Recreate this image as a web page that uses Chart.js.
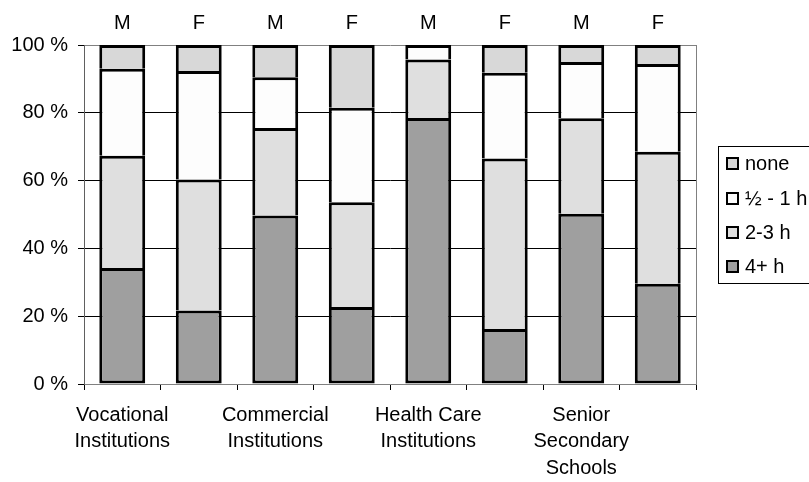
<!DOCTYPE html>
<html>
<head>
<meta charset="utf-8">
<script src="https://cdn.jsdelivr.net/npm/chart.js@4"></script>
<style>
  html, body { margin: 0; padding: 0; background: #ffffff; }
  #wrap { width: 809px; height: 482px; position: relative; }
</style>
</head>
<body>
<div id="wrap"><canvas id="c" width="809" height="482"></canvas></div>
<script>
// Category labels (one per bar, the institution name sits under the M bar)
const categories = [
  ["Vocational", "Institutions"], "",
  ["Commercial", "Institutions"], "",
  ["Health Care", "Institutions"], "",
  ["Senior", "Secondary", "Schools"], ""
];
const genders = ["M", "F", "M", "F", "M", "F", "M", "F"];

// Share of students (%) per daily time band
const hours4plus = [34.2, 21.7, 49.7, 22.7, 78.5, 16.2, 50.2, 29.6];
const hours2to3  = [33.1, 38.6, 25.8, 30.9, 17.2, 50.3, 28.2, 38.9];
const halfTo1h   = [25.7, 32.0, 15.0, 27.9,  4.3, 25.3, 16.6, 25.9];
const noneVals   = [ 7.0,  7.7,  9.5, 18.5,  0.0,  8.2,  5.0,  5.6];

const seriesNames = ["4+ h", "2-3 h", "\u00BD - 1 h", "none"];
const yTickValues = [0, 20, 40, 60, 80, 100];

const FONT = { family: "'Liberation Sans', Arial, sans-serif", size: 20 };

function segBorder(isBottom) {
  return { top: 3, left: 3, right: 3, bottom: isBottom ? 3 : 0 };
}

// Framed legend on the right, listed top-down like the stack
const sideLegend = {
  id: 'sideLegend',
  afterDraw(chart) {
    const ctx = chart.ctx;
    const area = chart.chartArea;
    const items = chart.data.datasets.slice().reverse();
    const spacing = 34.3;
    const boxH = spacing * items.length + 0.2;
    const left = area.right + 22;
    const top = (area.top + area.bottom) / 2 - boxH / 2;
    ctx.save();
    ctx.strokeStyle = '#000000';
    ctx.lineWidth = 1;
    ctx.strokeRect(Math.round(left) + 0.5, Math.round(top) + 0.5, chart.width - left + 10, Math.round(boxH));
    ctx.font = FONT.size + "px " + FONT.family;
    ctx.textBaseline = 'middle';
    ctx.textAlign = 'left';
    items.forEach((ds, i) => {
      const cy = top + 18 + i * spacing;
      const sx = left + 8, sy = Math.round(cy - 6.5);
      ctx.fillStyle = '#000000';
      ctx.fillRect(sx, sy, 13, 13);
      ctx.fillStyle = ds.backgroundColor;
      ctx.fillRect(sx + 2, sy + 2, 9, 9);
      ctx.fillStyle = '#000000';
      ctx.fillText(ds.label, left + 27, cy + 1);
    });
    ctx.restore();
  }
};

new Chart(document.getElementById('c'), {
  type: 'bar',
  data: {
    labels: categories,
    datasets: [
      { label: seriesNames[0], data: hours4plus, backgroundColor: '#9f9f9f', borderWidth: segBorder(true) },
      { label: seriesNames[1], data: hours2to3, backgroundColor: '#dfdfdf', borderWidth: segBorder(false) },
      { label: seriesNames[2], data: halfTo1h, backgroundColor: '#fdfdfd', borderWidth: segBorder(false) },
      { label: seriesNames[3], data: noneVals, backgroundColor: '#d8d8d8', borderWidth: segBorder(false) }
    ].map(d => Object.assign(d, {
      borderColor: '#000000',
      borderSkipped: false,
      barPercentage: 0.6,
      categoryPercentage: 1.0
    }))
  },
  options: {
    responsive: false,
    animation: false,
    devicePixelRatio: 1,
    layout: { padding: { left: 0, right: 113, top: 0, bottom: 0 } },
    plugins: {
      legend: { display: false },
      tooltip: { enabled: false }
    },
    scales: {
      x: {
        type: 'category',
        position: 'bottom',
        stacked: true,
        grid: {
          offset: true,
          drawOnChartArea: false,
          drawTicks: true,
          tickLength: 6,
          color: '#000000',
          tickColor: '#000000'
        },
        border: { color: '#808080', width: 1 },
        ticks: {
          font: Object.assign({ lineHeight: 1.325 }, FONT),
          color: '#000000',
          padding: 12,
          maxRotation: 0,
          autoSkip: false
        },
        afterFit(s) { s.height = 98; }
      },
      xTop: {
        type: 'category',
        position: 'top',
        labels: genders,
        grid: { display: false },
        border: { display: false },
        ticks: { font: FONT, color: '#000000', padding: 2, maxRotation: 0, autoSkip: false },
        afterFit(s) { s.height = 45; }
      },
      y: {
        stacked: true,
        min: 0,
        max: 100,
        afterBuildTicks(s) { s.ticks = yTickValues.map(v => ({ value: v })); },
        ticks: {
          font: FONT,
          color: '#000000',
          padding: 10,
          callback: v => v + ' %'
        },
        grid: {
          color: c => (c.tick && (c.tick.value === 100 || c.tick.value === 0)) ? '#808080' : '#000000',
          tickColor: '#000000',
          tickLength: 6,
          lineWidth: 1
        },
        border: { color: '#606060', width: 1 },
        afterFit(s) { s.width = 84; }
      },
      yRight: {
        position: 'right',
        min: 0,
        max: 100,
        grid: { display: false },
        ticks: { display: false },
        border: { color: '#808080', width: 1 },
        afterFit(s) { s.width = 0; }
      }
    }
  },
  plugins: [sideLegend]
});
</script>
</body>
</html>
